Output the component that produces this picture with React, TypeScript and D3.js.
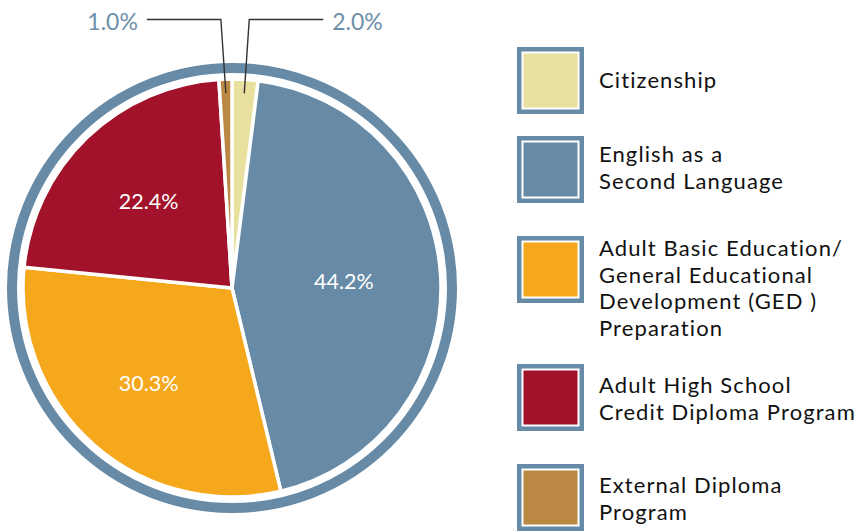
import React from "react";
import * as d3 from "d3";

const categories = [
  "Citizenship",
  "English as a Second Language",
  "Adult Basic Education/General Educational Development (GED) Preparation",
  "Adult High School Credit Diploma Program",
  "External Diploma Program",
];
const values = [2.0, 44.2, 30.3, 22.4, 1.0];
const valueLabels = ["2.0%", "44.2%", "30.3%", "22.4%", "1.0%"];
const legendLines = [
  ["Citizenship"],
  ["English as a", "Second Language"],
  ["Adult Basic Education/", "General Educational", "Development (GED )", "Preparation"],
  ["Adult High School", "Credit Diploma Program"],
  ["External Diploma", "Program"],
];
const colors = ["#e8e09e", "#678ba6", "#f6a81d", "#a2122b", "#bb8844"];

// layout (not data)
const W = 868;
const H = 531;
const CX = 232;
const CY = 288;
const R = 209;
const RING_R = 220;
const RING_W = 10;
const FONT = "Lato, 'Open Sans', sans-serif";
const legendBoxTop = [47, 136, 236, 364, 464];
const legendTextFirstBaseline = [88, 162, 256, 393, 493];
const LINE_H = 26.5;

export default function App() {
  const pie = d3
    .pie<number>()
    .sort(null)
    .startAngle(0)
    .endAngle(2 * Math.PI)
    .value((d) => d);
  const arcs = pie(values);
  const arc = d3.arc<d3.PieArcDatum<number>>().innerRadius(0).outerRadius(R);
  const outerPt = d3.arc<d3.PieArcDatum<number>>().innerRadius(R - 14).outerRadius(R - 14);

  const insideIdx = [1, 2, 3];
  const labelRadius = (i: number) => (i === 1 ? 112 : i === 2 ? 127 : 120);

  const small = [
    { i: 4, side: -1 },
    { i: 0, side: 1 },
  ];

  return (
    <svg
      width={W}
      height={H}
      style={{ position: "absolute", left: 0, top: 0, background: "#fff" }}
    >
      <circle cx={CX} cy={CY} r={RING_R} fill="none" stroke="#678ba6" strokeWidth={RING_W} />
      <g transform={`translate(${CX},${CY})`}>
        {arcs.map((a, i) => (
          <path key={i} d={arc(a) || ""} fill={colors[i]} stroke="#fff" strokeWidth={3.5} strokeLinejoin="round" />
        ))}
        {insideIdx.map((i) => {
          const a = arcs[i];
          const mid = (a.startAngle + a.endAngle) / 2;
          const r = labelRadius(i);
          const x = r * Math.sin(mid);
          const y = -r * Math.cos(mid);
          return (
            <text
              key={i}
              x={x}
              y={y + 7.5}
              textAnchor="middle"
              fill="#fff"
              fontFamily={FONT}
              fontSize={21.5}
            >
              {valueLabels[i]}
            </text>
          );
        })}
        {small.map(({ i, side }) => {
          const a = arcs[i];
          const [px, py] = outerPt.centroid(a);
          const elbowX = px + side * 5;
          const elbowY = 19.5 - CY;
          const endX = elbowX + side * 74;
          const pts: [number, number][] = [
            [px, py],
            [elbowX, elbowY],
            [endX, elbowY],
          ];
          return (
            <g key={i}>
              <path d={d3.line()(pts) || ""} fill="none" stroke="#333" strokeWidth={1.4} />
              <text
                x={endX + side * 9}
                y={elbowY + 10}
                textAnchor={side < 0 ? "end" : "start"}
                fill="#6e8fa9"
                fontFamily={FONT}
                fontSize={23}
              >
                {valueLabels[i]}
              </text>
            </g>
          );
        })}
      </g>
      <g>
        {categories.map((c, i) => {
          const top = legendBoxTop[i];
          return (
            <g key={c}>
              <rect x={517} y={top} width={67} height={67} fill="#678ba6" />
              <rect x={521.5} y={top + 4.5} width={58} height={58} fill="#fff" />
              <rect x={523.5} y={top + 6.5} width={54} height={54} fill={colors[i]} />
              <text fontFamily={FONT} fontSize={22} fill="#111" letterSpacing={1.1}>
                {legendLines[i].map((l, j) => (
                  <tspan key={j} x={599} y={legendTextFirstBaseline[i] + j * LINE_H}>
                    {l}
                  </tspan>
                ))}
              </text>
            </g>
          );
        })}
      </g>
    </svg>
  );
}
